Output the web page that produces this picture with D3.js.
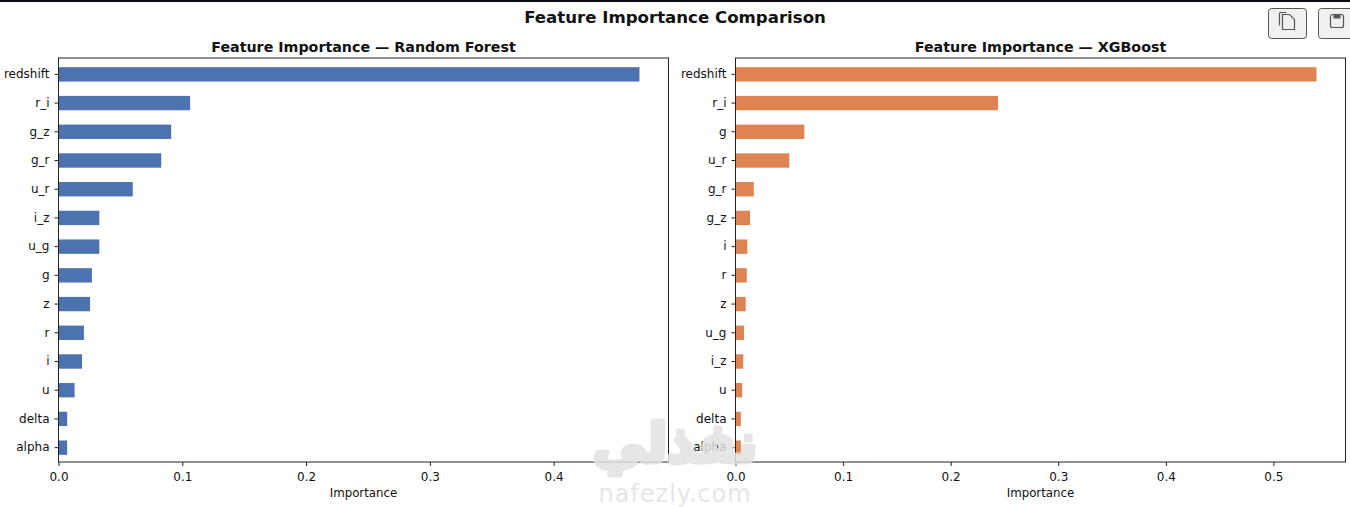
<!DOCTYPE html>
<html>
<head>
<meta charset="utf-8">
<script src="https://cdn.jsdelivr.net/npm/d3@7"></script>
<style>
  html, body { margin: 0; padding: 0; background: #fff; overflow: hidden; }
  text { font-family: "DejaVu Sans", sans-serif; fill: #111; }
  .axisText { font-size: 11.8px; }
  .tick text { font-size: 12px; }
  .panelTitle { font-size: 14.25px; font-weight: bold; text-anchor: middle; }
</style>
</head>
<body>
<svg id="chart"></svg>
<script>
var svgWidth = 1350;
var svgHeight = 507;

// values, biggest first
var rfFeatures = ["redshift", "r_i", "g_z", "g_r", "u_r", "i_z", "u_g", "g", "z", "r", "i", "u", "delta", "alpha"];
var rfValues = [0.4693, 0.1063, 0.091, 0.083, 0.060, 0.033, 0.033, 0.027, 0.0255, 0.0205, 0.019, 0.013, 0.007, 0.007];
var rfTicks = [0, 0.1, 0.2, 0.3, 0.4];

var xgbFeatures = ["redshift", "r_i", "g", "u_r", "g_r", "g_z", "i", "r", "z", "u_g", "i_z", "u", "delta", "alpha"];
var xgbValues = [0.54, 0.244, 0.064, 0.05, 0.017, 0.0135, 0.011, 0.0105, 0.0095, 0.008, 0.0072, 0.0062, 0.005, 0.005];
var xgbTicks = [0, 0.1, 0.2, 0.3, 0.4, 0.5];

var svg = d3
  .select("#chart")
  .attr("width", svgWidth)
  .attr("height", svgHeight)
  .style("display", "block");

// dark strip along the top of the screenshot
svg.append("rect").attr("width", svgWidth).attr("height", 2).attr("fill", "#0a0a14");

svg
  .append("text")
  .attr("x", 675)
  .attr("y", 23)
  .style("text-anchor", "middle")
  .style("font-size", "16.6px")
  .style("font-weight", "bold")
  .text("Feature Importance Comparison");

function drawPanel(left, right, title, features, values, ticks, color) {
  var top = 58;
  var bottom = 462;

  var xScale = d3
    .scaleLinear()
    .domain([0, d3.max(values) * 1.05])
    .range([left, right]);

  // bars sit a bit lower than the frame top in the screenshot
  var yScale = d3
    .scaleBand()
    .domain(features)
    .range([top + 2, bottom])
    .paddingInner(0.5)
    .paddingOuter(0.25);

  var g = svg.append("g");

  g.selectAll("rect")
    .data(values)
    .enter()
    .append("rect")
    .attr("x", xScale(0))
    .attr("y", (d, i) => yScale(features[i]))
    .attr("width", (d) => xScale(d) - xScale(0))
    .attr("height", yScale.bandwidth())
    .attr("fill", color);

  // frame
  g.append("rect")
    .attr("x", left)
    .attr("y", top)
    .attr("width", right - left)
    .attr("height", bottom - top)
    .attr("fill", "none")
    .attr("stroke", "#222")
    .attr("stroke-width", 1);

  var bottomAxis = d3.axisBottom(xScale).tickValues(ticks).tickFormat(d3.format(".1f")).tickSize(4).tickPadding(6);
  var leftAxis = d3.axisLeft(yScale).tickSize(4).tickPadding(5);

  g.append("g").attr("transform", `translate(0,${bottom})`).call(bottomAxis).call((a) => a.select(".domain").remove());
  g.append("g").attr("transform", `translate(${left},0)`).call(leftAxis).call((a) => a.select(".domain").remove());
  g.selectAll(".tick line").attr("stroke", "#222");

  g.append("text")
    .attr("class", "panelTitle")
    .attr("x", (left + right) / 2)
    .attr("y", 52)
    .text(title);

  g.append("text")
    .attr("class", "axisText")
    .attr("x", (left + right) / 2)
    .attr("y", 497)
    .style("text-anchor", "middle")
    .text("Importance");
}

drawPanel(58.5, 668.5, "Feature Importance — Random Forest", rfFeatures, rfValues, rfTicks, "#4c72b0");
drawPanel(735.5, 1345.5, "Feature Importance — XGBoost", xgbFeatures, xgbValues, xgbTicks, "#dd8452");

// copy and save buttons, top right
function drawButton(x, icon) {
  var b = svg.append("g").attr("transform", `translate(${x},8.5)`);
  b.append("rect")
    .attr("width", 38)
    .attr("height", 30)
    .attr("rx", 3)
    .attr("fill", "#f0f0f0")
    .attr("stroke", "#555")
    .attr("stroke-width", 1);
  icon(b);
}

drawButton(1268.5, (b) => {
  b.append("path").attr("d", "M11 17 V5 Q11 4 12 4 H18").attr("fill", "none").attr("stroke", "#555").attr("stroke-width", 1.2);
  b.append("path").attr("d", "M14 6 H21 L26 11 V21 H14 Z").attr("fill", "#f0f0f0").attr("stroke", "#555").attr("stroke-width", 1.2);
});
drawButton(1318.5, (b) => {
  b.append("rect").attr("x", 12).attr("y", 6).attr("width", 13).attr("height", 13).attr("rx", 2).attr("fill", "#eee").attr("stroke", "#555").attr("stroke-width", 1.2);
  b.append("rect").attr("x", 15).attr("y", 6).attr("width", 7).attr("height", 4).attr("fill", "#555");
});

// site watermark on top of everything
var mark = svg.append("g").style("pointer-events", "none").attr("opacity", 0.85);
mark.append("text")
  .attr("x", 675)
  .attr("y", 462)
  .attr("direction", "rtl")
  .style("text-anchor", "middle")
  .style("font-size", "54px")
  .style("font-weight", "bold")
  .style("fill", "#e2e2e2")
  .style("stroke", "#e2e2e2")
  .style("stroke-width", "5px")
  .style("stroke-linejoin", "round")
  .text("نفذلي");
mark.append("text")
  .attr("x", 675)
  .attr("y", 502)
  .style("text-anchor", "middle")
  .style("font-size", "24px")
  .style("letter-spacing", "1px")
  .style("fill", "#e2e2e2")
  .text("nafezly.com");
</script>
</body>
</html>
